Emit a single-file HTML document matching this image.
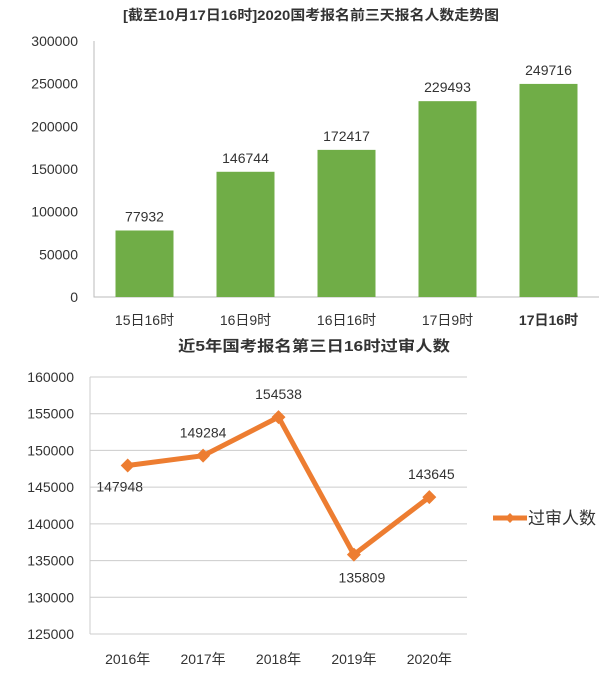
<!DOCTYPE html>
<html><head><meta charset="utf-8"><style>
body{margin:0;background:#fff;font-family:"Liberation Sans","Noto Sans CJK SC",sans-serif;}
svg text{font-family:"Liberation Sans","Noto Sans CJK SC",sans-serif;fill:#333;}
</style></head><body>
<svg width="600" height="677">
<g id="top"></g><g id="bot"></g>
</svg>
<script>
const barCats=["15日16时","16日9时","16日16时","17日9时","17日16时"];
const barVals=[77932,146744,172417,229493,249716];
const barTicks=[0,50000,100000,150000,200000,250000,300000];
const lineCats=["2016年","2017年","2018年","2019年","2020年"];
const lineVals=[147948,149284,154538,135809,143645];
const lineTicks=[125000,130000,135000,140000,145000,150000,155000,160000];
const NS="http://www.w3.org/2000/svg";
function mk(p,t,a,txt){const e=document.createElementNS(NS,t);for(const k in a)e.setAttribute(k,a[k]);if(txt!==undefined)e.textContent=txt;p.appendChild(e);return e;}
// top bar chart
const T=document.getElementById('top');
const bx0=94,bx1=599,by0=297,by1=41;
const bslot=(bx1-bx0)/barCats.length;
const bY=v=>by0-(v/300000)*(by0-by1);
const bX=i=>bx0+bslot*(i+0.5);
let t=mk(T,'text',{x:311,y:20,'text-anchor':'middle','font-size':14,'font-weight':'bold',textLength:376,lengthAdjust:'spacingAndGlyphs'},"[截至10月17日16时]2020国考报名前三天报名人数走势图");


barTicks.forEach(v=>{const e=mk(T,'text',{x:78,y:bY(v)+5,'text-anchor':'end','font-size':14},v);

});
let ax=mk(T,'path',{d:`M${bx0} ${by1}V${by0}H${bx1}`,stroke:'#bbb',fill:'none','stroke-width':1});


barVals.forEach((v,i)=>{
const r=mk(T,'rect',{x:bX(i)-29,y:bY(v),width:58,height:by0-bY(v),fill:'#70ad47'});


const l=mk(T,'text',{x:bX(i),y:bY(v)-9,'text-anchor':'middle','font-size':14},v);


const c=mk(T,'text',{x:bX(i),y:325,'text-anchor':'middle','font-size':14,'font-weight':i==4?'bold':'normal'},barCats[i]);

});
// bottom line chart
const B=document.getElementById('bot');
const lx0=90,lx1=467,ly0=634,ly1=377;
const lslot=(lx1-lx0)/lineCats.length;
const lY=v=>ly0-(v-125000)/35000*(ly0-ly1);
const lX=i=>lx0+lslot*(i+0.5);
t=mk(B,'text',{x:314,y:351,'text-anchor':'middle','font-size':15,'font-weight':'bold',textLength:272,lengthAdjust:'spacingAndGlyphs'},"近5年国考报名第三日16时过审人数");


lineTicks.forEach(v=>{
const g=mk(B,'line',{x1:lx0,x2:lx1,y1:lY(v),y2:lY(v),stroke:'#ccc','stroke-width':1});


const e=mk(B,'text',{x:74,y:lY(v)+5,'text-anchor':'end','font-size':14},v);

});
ax=mk(B,'line',{x1:lx0,x2:lx0,y1:ly1,y2:ly0,stroke:'#ccc'});


const pts=lineVals.map((v,i)=>lX(i)+','+lY(v)).join(' ');
const pl=mk(B,'polyline',{points:pts,fill:'none',stroke:'#ed7d31','stroke-width':5,'stroke-linejoin':'round'});


const offs=[26,-18,-18,28,-18];
const dx=[-8,0,0,8,2];
lineVals.forEach((v,i)=>{
const x=lX(i),y=lY(v);
const m=mk(B,'path',{d:`M${x} ${y-7}L${x+7} ${y}L${x} ${y+7}L${x-7} ${y}Z`,fill:'#ed7d31'});


const l=mk(B,'text',{x:x+dx[i],y:y+offs[i],'text-anchor':'middle','font-size':14},v);


const c=mk(B,'text',{x:x,y:664,'text-anchor':'middle','font-size':14},lineCats[i]);

});
const lg=mk(B,'line',{x1:493,x2:527,y1:518,y2:518,stroke:'#ed7d31','stroke-width':5});


const ld=mk(B,'path',{d:'M510 513L515 518L510 523L505 518Z',fill:'#ed7d31'});


const lt=mk(B,'text',{x:528,y:524,'font-size':17,textLength:68,lengthAdjust:'spacingAndGlyphs'},"过审人数");


</script>
</body></html>
